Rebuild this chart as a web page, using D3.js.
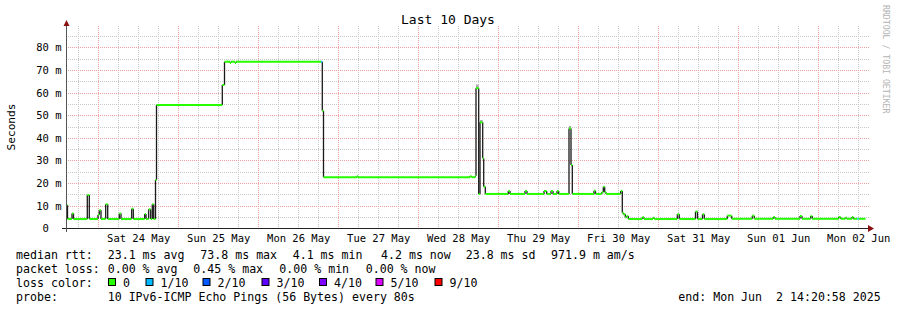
<!DOCTYPE html>
<html>
<head>
<meta charset="utf-8">
<script src="https://cdn.jsdelivr.net/npm/d3@7"></script>
<style>
  body { margin: 0; background: #fff; }
  text { font-family: "DejaVu Sans Mono", monospace; white-space: pre; }
</style>
</head>
<body>
<svg id="chart" width="897" height="310"></svg>
<script>
// smokeping style rtt graph, last 10 days

// time window: 10 days ending at the "end:" stamp
const endTime = Date.UTC(2025, 5, 2, 14, 20, 58);
const spanHours = 240;
const startTime = endTime - spanHours * 3600e3;

// median rtt steps: hour offset from window start, value in ms
const hours = [0, 0.45, 1.8, 2.25, 6.39, 6.99, 9.6, 9.99, 10.5, 11.91,
  12.51, 15.99, 16.5, 19.71, 20.19, 23.61, 24.0, 24.81, 25.41, 25.89,
  26.31, 26.85, 27.15, 46.89, 47.55, 49.2, 49.5, 50.7, 51.0, 76.5,
  76.89, 77.25, 87.3, 87.6, 121.2, 121.65, 122.79, 123.0, 123.81, 124.2,
  125.01, 125.31, 125.79, 132.69, 133.2, 137.7, 138.3, 143.4, 144.21, 145.5,
  146.1, 147.3, 147.81, 150.9, 151.5, 151.89, 158.4, 158.85, 160.71, 161.19,
  161.61, 162.0, 166.41, 166.89, 167.19, 167.79, 168.21, 168.69, 172.89, 173.4,
  176.1, 176.49, 183.39, 183.99, 188.85, 189.45, 190.95, 191.49, 198.39, 199.71,
  205.89, 206.49, 212.19, 212.7, 220.2, 220.8, 223.41, 223.89, 231.81, 232.41,
  233.79, 234.21, 235.8, 236.19, 237.39, 237.81];
const rttMs = [10.3, 4.1, 6.6, 4.1, 14.7, 4.1, 6.0, 8.0, 4.1, 10.6,
  4.1, 6.6, 4.1, 8.7, 4.1, 6.3, 4.1, 8.4, 4.1, 10.6,
  4.1, 21.4, 54.6, 63.4, 73.7, 73.1, 73.7, 73.1, 73.7, 73.7,
  52.0, 22.6, 23.0, 22.6, 23.0, 22.6, 23.3, 62.0, 15.2, 46.9,
  31.0, 18.4, 15.2, 16.5, 15.2, 16.5, 15.2, 16.5, 15.2, 16.5,
  15.2, 16.5, 15.2, 44.2, 28.0, 15.2, 16.6, 15.2, 15.9, 18.4,
  16.0, 15.2, 16.5, 6.9, 6.2, 4.9, 5.4, 4.1, 4.9, 4.1,
  4.7, 4.1, 6.2, 4.1, 7.4, 4.1, 6.2, 4.1, 5.6, 4.2,
  5.6, 4.2, 5.0, 4.2, 5.4, 4.2, 5.4, 4.2, 5.0, 4.2,
  4.7, 4.2, 5.0, 4.2, 4.2, 4.2];
// packet loss per step, index into lossColors
const lossIdx = [0, 0, 0, 0, 0, 0, 0, 0, 0, 0,
  0, 0, 0, 0, 0, 0, 0, 0, 0, 0,
  0, 0, 0, 0, 0, 0, 0, 0, 0, 1,
  0, 0, 0, 0, 0, 0, 0, 0, 0, 0,
  0, 0, 0, 0, 0, 0, 0, 0, 0, 0,
  0, 0, 0, 0, 0, 0, 0, 0, 0, 0,
  0, 0, 0, 0, 0, 0, 0, 0, 0, 0,
  0, 0, 0, 0, 0, 0, 0, 0, 0, 0,
  0, 0, 0, 0, 0, 0, 0, 0, 0, 0,
  0, 0, 0, 0, 1, 0];
const lastHour = 239.85;

// visible smoke above a few spikes: step index and top of the ping spread (ms)
const smokeIdx = [37, 39, 53];
const smokeTopMs = [63.6, 47.9, 45.3];

const lossLabels = ["0", "1/10", "2/10", "3/10", "4/10", "5/10", "9/10"];
const lossColors = ["#26ff00", "#00b8ff", "#0059ff", "#5e00ff", "#7e00ff", "#dd00ff", "#ff0000"];

const yTicksMs = [0, 10, 20, 30, 40, 50, 60, 70, 80];

const legendRtt = ["23.1 ms avg", "73.8 ms max", "4.1 ms min", "4.2 ms now", "23.8 ms sd", "971.9 m am/s"];
const legendLoss = ["0.00 % avg", "0.45 % max", "0.00 % min", "0.00 % now"];
const probeText = "10 IPv6-ICMP Echo Pings (56 Bytes) every 80s";
const endText = "end: Mon Jun  2 14:20:58 2025";

const svg = d3.select("#chart");

const x = d3.scaleUtc()
  .domain([new Date(startTime), new Date(endTime)])
  .range([66, 866]);
const y = d3.scaleLinear()
  .domain([0, 89.5])
  .range([228.3, 26]);

const t0 = new Date(startTime), t1 = new Date(endTime);
const crisp = v => Math.round(v) + 0.5;

// grid
const grid = svg.append("g");
const sixHours = d3.utcHour.every(6).range(t0, t1).filter(d => d.getUTCHours() !== 0);
const midnights = d3.utcDay.range(t0, t1);

grid.selectAll(".vminor").data(sixHours).join("line")
  .attr("x1", d => crisp(x(d))).attr("x2", d => crisp(x(d)))
  .attr("y1", 26).attr("y2", 228)
  .attr("stroke", "#c8c8c8").attr("stroke-dasharray", "1,1");

const minorMs = d3.range(5, 89, 10);
grid.selectAll(".hminor").data(minorMs).join("line")
  .attr("x1", 66).attr("x2", 869)
  .attr("y1", d => crisp(y(d))).attr("y2", d => crisp(y(d)))
  .attr("stroke", "#c8c8c8").attr("stroke-dasharray", "1,1");

grid.selectAll(".vmajor").data(midnights).join("line")
  .attr("x1", d => crisp(x(d))).attr("x2", d => crisp(x(d)))
  .attr("y1", 26).attr("y2", 228)
  .attr("stroke", "#f0a0a0").attr("stroke-dasharray", "1,1");

grid.selectAll(".hmajor").data(yTicksMs.slice(1)).join("line")
  .attr("x1", 66).attr("x2", 869)
  .attr("y1", d => crisp(y(d))).attr("y2", d => crisp(y(d)))
  .attr("stroke", "#e8a0a0").attr("stroke-dasharray", "1,1");

// median line
const pts = hours.map((h, i) => ({
  t0: new Date(startTime + h * 3600e3),
  t1: new Date(startTime + (i + 1 < hours.length ? hours[i + 1] : lastHour) * 3600e3),
  v: rttMs[i],
  loss: lossIdx[i]
}));

svg.append("g").selectAll("rect").data(smokeIdx).join("rect")
  .attr("x", d => x(pts[d].t0)).attr("width", d => x(pts[d].t1) - x(pts[d].t0))
  .attr("y", (d, i) => y(smokeTopMs[i])).attr("height", (d, i) => y(pts[d].v) - y(smokeTopMs[i]))
  .attr("fill", "#a8a8a8");

svg.append("g").selectAll("line").data(pts.slice(1)).join("line")
  .attr("x1", d => x(d.t0)).attr("x2", d => x(d.t0))
  .attr("y1", (d, i) => y(pts[i].v)).attr("y2", d => y(d.v))
  .attr("stroke", "#1a1a1a").attr("stroke-width", 1.3);

svg.append("g").selectAll("line").data(pts).join("line")
  .attr("x1", d => x(d.t0)).attr("x2", d => x(d.t1))
  .attr("y1", d => y(d.v)).attr("y2", d => y(d.v))
  .attr("stroke", d => lossColors[d.loss]).attr("stroke-width", 2);

// axes
svg.append("line").attr("x1", 62).attr("x2", 869).attr("y1", 228.5).attr("y2", 228.5)
  .attr("stroke", "#222");
svg.append("line").attr("x1", 66.5).attr("x2", 66.5).attr("y1", 232).attr("y2", 24)
  .attr("stroke", "#555");
svg.append("path").attr("d", "M63.5,26L69.5,26L66.5,20Z").attr("fill", "#8b1010");
svg.append("path").attr("d", "M868,225L868,232L874,228.5Z").attr("fill", "#8b1010");

const noons = midnights.map(d => d3.utcHour.offset(d, 12)).filter(d => d < t1);
const xAxis = svg.append("g")
  .attr("transform", "translate(0,228.3)")
  .call(d3.axisBottom(x).tickValues(noons).tickFormat(d3.utcFormat("%a %d %b")).tickSize(0).tickPadding(6));
xAxis.select(".domain").remove();
xAxis.selectAll("text").attr("font-family", null).style("font-size", "10.5px").attr("fill", "#000");

const yAxis = svg.append("g")
  .attr("transform", "translate(61.5,0)")
  .call(d3.axisLeft(y).tickValues(yTicksMs).tickFormat(d => d === 0 ? "0  " : d + " m").tickSize(0).tickPadding(0));
yAxis.select(".domain").remove();
yAxis.selectAll("text").attr("font-family", null).style("font-size", "10.5px").attr("fill", "#000");

// titles
svg.append("text").attr("x", 448).attr("y", 24).attr("text-anchor", "middle")
  .style("font-size", "13px").text("Last 10 Days");
svg.append("text").attr("transform", "translate(15,127) rotate(-90)").attr("text-anchor", "middle")
  .style("font-size", "11.2px").text("Seconds");
svg.append("text").attr("transform", "translate(883,5) rotate(90)")
  .style("font-size", "8.2px").attr("fill", "#b4b4b4").text("RRDTOOL / TOBI OETIKER");

// legend
const lg = svg.append("g").style("font-size", "11.6px");
const rttX = [107.7, 200.3, 292.7, 381, 465.7, 551];
const lossX = [107.7, 193.3, 279.3, 365.7];
const boxX = [108.5, 146, 203, 262, 319.5, 376, 435];

lg.append("text").attr("x", 16).attr("y", 258.5).text("median rtt:");
lg.selectAll(".rtt").data(legendRtt).join("text")
  .attr("x", (d, i) => rttX[i]).attr("y", 258.5).text(d => d);

lg.append("text").attr("x", 16).attr("y", 272.5).text("packet loss:");
lg.selectAll(".loss").data(legendLoss).join("text")
  .attr("x", (d, i) => lossX[i]).attr("y", 272.5).text(d => d);

lg.append("text").attr("x", 16).attr("y", 286.5).text("loss color:");
lg.selectAll("rect").data(lossColors).join("rect")
  .attr("x", (d, i) => boxX[i]).attr("y", 278.5).attr("width", 7).attr("height", 7)
  .attr("fill", d => d).attr("stroke", "#000").attr("stroke-width", 1);
lg.selectAll(".lc").data(lossLabels).join("text")
  .attr("x", (d, i) => boxX[i] + 14.5).attr("y", 286.5).text(d => d);

lg.append("text").attr("x", 16).attr("y", 300.5).text("probe:");
lg.append("text").attr("x", 107.7).attr("y", 300.5).text(probeText);
lg.append("text").attr("x", 678.3).attr("y", 300.5).text(endText);
</script>
</body>
</html>
